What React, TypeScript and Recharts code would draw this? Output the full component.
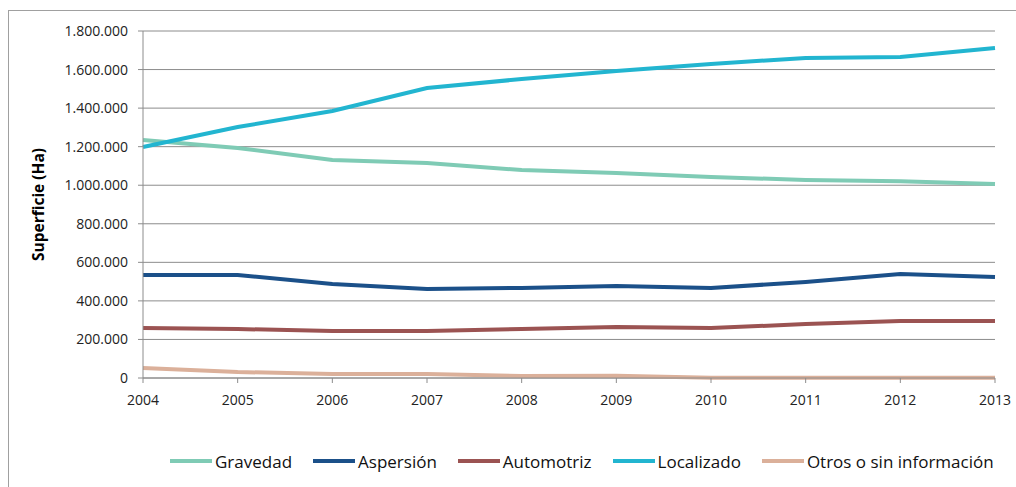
import React from 'react';
import { LineChart, Line, XAxis, YAxis, CartesianGrid } from 'recharts';

const years = ['2004', '2005', '2006', '2007', '2008', '2009', '2010', '2011', '2012', '2013'];
const gravedad = [1235000, 1193000, 1131000, 1115000, 1079000, 1063000, 1043000, 1027000, 1020000, 1006000];
const aspersion = [534000, 534000, 488000, 462000, 467000, 477000, 467000, 498000, 539000, 524000];
const automotriz = [259000, 254000, 244000, 244000, 254000, 264000, 259000, 280000, 296000, 296000];
const localizado = [1198000, 1302000, 1385000, 1504000, 1551000, 1593000, 1629000, 1660000, 1665000, 1712000];
const otros = [52000, 31000, 21000, 21000, 10000, 12000, 1000, 1000, 1000, 1000];
const yTicks = [0, 200000, 400000, 600000, 800000, 1000000, 1200000, 1400000, 1600000, 1800000];

const series = [
  { key: 'gravedad', name: 'Gravedad', color: '#7fcbb5', values: gravedad },
  { key: 'aspersion', name: 'Aspersión', color: '#1b5089', values: aspersion },
  { key: 'automotriz', name: 'Automotriz', color: '#9b5352', values: automotriz },
  { key: 'localizado', name: 'Localizado', color: '#22b5d0', values: localizado },
  { key: 'otros', name: 'Otros o sin información', color: '#dbb09a', values: otros },
];

const data = years.map((y, i) => {
  const row: any = { year: y };
  series.forEach((s) => (row[s.key] = s.values[i]));
  return row;
});

const fmt = (v: number) => String(v).replace(/\B(?=(\d{3})+(?!\d))/g, '.');
const FONT = '"Open Sans", sans-serif';

const YLabel = (props: any) => {
  const vb = props.viewBox;
  const cx = 38;
  const cy = vb.y + vb.height / 2;
  return (
    <text x={cx} y={cy} transform={`rotate(-90 ${cx} ${cy})`} textAnchor="middle" dominantBaseline="central"
      fontFamily={FONT} fontWeight="bold" fontSize={15.5} fill="#000">
      Superficie (Ha)
    </text>
  );
};

export default function App() {
  return (
    <div style={{ position: 'absolute', left: 0, top: 0, width: 1016, height: 487, background: '#fff', overflow: 'hidden', fontFamily: FONT }}>
      <div style={{ position: 'absolute', left: 8, top: 10, width: 1100, height: 600, borderLeft: '1px solid #a0a0a0', borderTop: '1px solid #a0a0a0' }} />
      <div style={{ position: 'absolute', left: 0, top: 0 }}>
        <LineChart width={1016} height={487} data={data} margin={{ top: 31, right: 21, bottom: 0, left: 0 }}>
          <CartesianGrid vertical={false} stroke="#8c8c8c" strokeWidth={1} />
          <XAxis dataKey="year" height={109} stroke="#8c8c8c" tickLine={{ stroke: '#8c8c8c' }} tickSize={5}
            tick={{ fill: '#222', fontSize: 14, fontFamily: FONT }} interval={0} tickMargin={12} />
          <YAxis width={143} domain={[0, 1800000]} ticks={yTicks} tickFormatter={fmt} stroke="#8c8c8c"
            tickLine={{ stroke: '#8c8c8c' }} tickSize={5} tickMargin={10}
            tick={{ fill: '#222', fontSize: 14, fontFamily: FONT }} label={<YLabel />} />
          {series.map((s) => (
            <Line key={s.key} dataKey={s.key} name={s.name} stroke={s.color} strokeWidth={4} dot={false}
              isAnimationActive={false} type="linear" />
          ))}
        </LineChart>
      </div>
      <div style={{ position: 'absolute', left: 170, top: 450, display: 'flex', alignItems: 'center', height: 22 }}>
        {series.map((s) => (
          <div key={s.key} style={{ display: 'flex', alignItems: 'center', marginRight: 21 }}>
            <div style={{ width: 42, height: 4, background: s.color, marginRight: 3 }} />
            <span style={{ fontSize: 17, color: '#111', whiteSpace: 'nowrap' }}>{s.name}</span>
          </div>
        ))}
      </div>
    </div>
  );
}
